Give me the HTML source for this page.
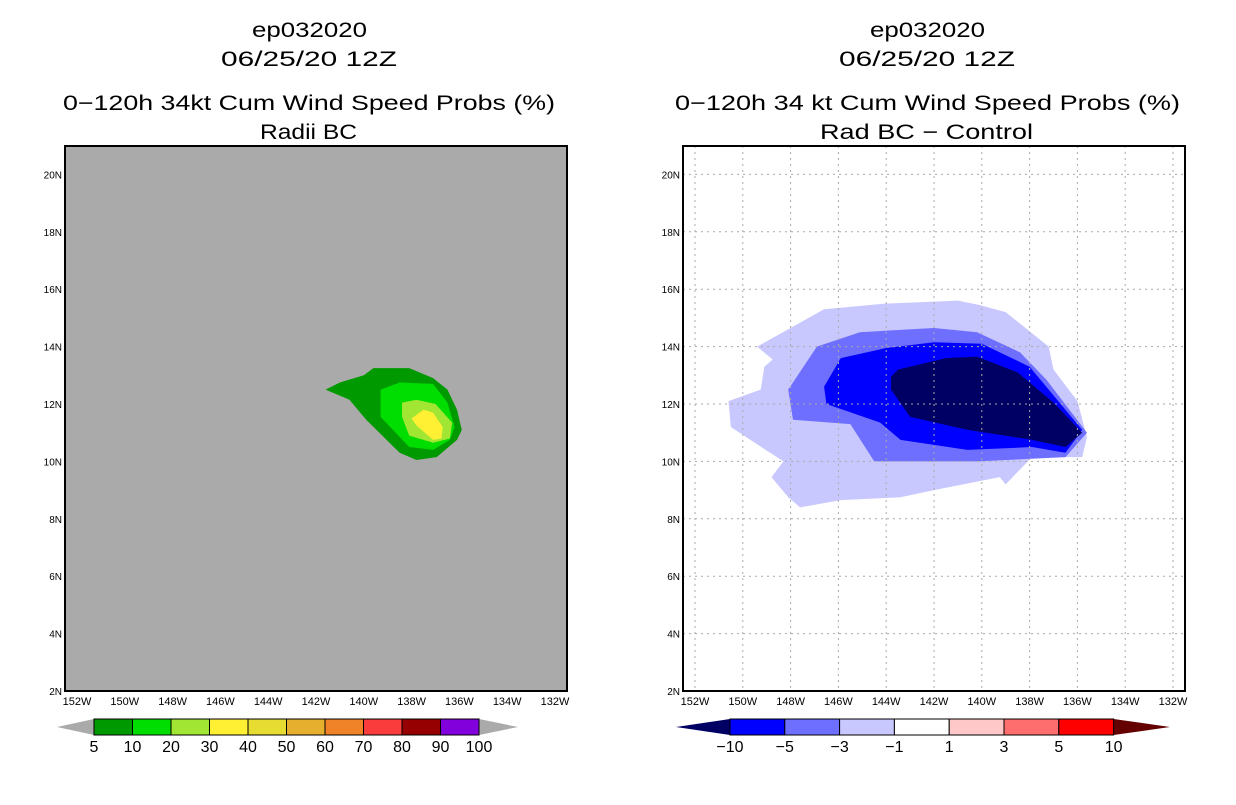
<!DOCTYPE html>
<html><head><meta charset="utf-8"><style>
body{margin:0;background:#fff;width:1236px;height:800px;overflow:hidden;font-family:"Liberation Sans",sans-serif}
svg text{font-family:"Liberation Sans",sans-serif}
</style></head><body>
<svg id="s" width="1236" height="800" xmlns="http://www.w3.org/2000/svg">
<g font-size="21" fill="#000" lengthAdjust="spacingAndGlyphs">
<text x="252" y="37" textLength="115" lengthAdjust="spacingAndGlyphs">ep032020</text>
<text x="221" y="66" textLength="176" lengthAdjust="spacingAndGlyphs">06/25/20 12Z</text>
<text x="63" y="110" textLength="492" lengthAdjust="spacingAndGlyphs">0−120h 34kt Cum Wind Speed Probs (%)</text>
<text x="260" y="139" textLength="97" lengthAdjust="spacingAndGlyphs">Radii BC</text></g>
<g font-size="21" fill="#000">
<text x="870" y="37" textLength="115" lengthAdjust="spacingAndGlyphs">ep032020</text>
<text x="839" y="66" textLength="176" lengthAdjust="spacingAndGlyphs">06/25/20 12Z</text>
<text x="675" y="110" textLength="505" lengthAdjust="spacingAndGlyphs">0−120h 34 kt Cum Wind Speed Probs (%)</text>
<text x="820" y="139" textLength="213" lengthAdjust="spacingAndGlyphs">Rad BC − Control</text></g>
<g id="L"></g><g id="R"></g>
</svg>
<script>
const lonTicks=[152,150,148,146,144,142,140,138,136,134,132];
const latTicks=[20,18,16,14,12,10,8,6,4,2];
const leftLevels=["5","10","20","30","40","50","60","70","80","90","100"];
const leftColors=["#009900","#00dd00","#a0e632","#fff033","#e6dc32","#e6af2d","#f08228","#fa3c3c","#960000","#8200dc"];
const rightLevels=["−10","−5","−3","−1","1","3","5","10"];
const rightColors=["#000064","#0000ff","#6e6eff","#c8c8ff","#ffffff","#ffc8c8","#ff6e6e","#ff0000","#640000"];
// left contours [lon(W), lat]
const leftC5=[[141.6,12.5],[141.0,12.75],[140.0,13.0],[139.6,13.25],[138.1,13.25],[137.1,12.9],[136.5,12.5],[136.1,11.8],[135.9,11.1],[136.1,10.75],[136.95,10.15],[137.8,10.05],[138.5,10.3],[139.9,11.45],[140.6,12.15]];
const leftC10=[[139.3,12.5],[138.5,12.75],[137.1,12.7],[136.5,12.05],[136.2,11.2],[136.4,10.75],[137.1,10.4],[138.1,10.5],[139.3,11.55]];
const leftC20=[[138.4,12.05],[137.8,12.15],[137.0,12.0],[136.3,11.35],[136.4,10.8],[137.1,10.65],[138.1,10.9],[138.4,11.55]];
const leftC30=[[138.0,11.5],[137.5,11.8],[137.1,11.7],[136.7,11.2],[136.75,10.8],[137.1,10.75],[137.8,11.25]];
// right difference contours
const rightCm1=[[149.4,14.0],[146.6,15.3],[144.0,15.5],[141.0,15.6],[140.1,15.45],[139.0,15.2],[137.2,14.0],[137.0,13.2],[136.0,12.1],[135.6,10.85],[135.8,10.15],[137.9,10.15],[139.0,9.2],[139.25,9.45],[142.0,9.0],[143.4,8.75],[145.9,8.65],[147.6,8.4],[148.1,8.75],[148.8,9.45],[148.3,10.0],[149.5,10.65],[150.5,11.2],[150.6,12.1],[149.25,12.5],[149.1,13.3],[148.75,13.55]];
const rightCm3=[[148.1,12.5],[146.9,14.0],[145.1,14.5],[142.0,14.65],[140.2,14.5],[138.4,13.8],[137.3,12.85],[135.6,11.0],[136.5,10.15],[140.2,10.0],[144.5,10.0],[145.5,11.3],[147.9,11.45]];
const rightCm5=[[146.6,12.6],[145.9,13.6],[144.0,13.95],[142.0,14.15],[140.0,14.1],[138.0,13.3],[135.8,11.1],[136.5,10.3],[137.9,10.5],[140.6,10.4],[143.4,10.75],[144.25,11.35],[146.5,12.0]];
const rightCm10=[[143.8,12.95],[143.5,13.2],[141.5,13.6],[140.2,13.65],[138.5,13.1],[137.0,12.05],[135.8,11.0],[136.5,10.5],[137.9,10.75],[140.6,11.1],[143.0,11.55],[143.8,12.5]];

const NS='http://www.w3.org/2000/svg';
function mk(p,t,a){const e=document.createElementNS(NS,t);for(const k in a)e.setAttribute(k,a[k]);p.appendChild(e);return e;}
function panel(g,x0,bg,grid,polys,cols){
  const xS=l=>x0+12+(152-l)*23.9, yS=la=>691-(la-2)*28.7;
  const bgR=mk(g,'rect',{x:x0,y:146,width:502,height:545,fill:bg});
  
  
  polys.forEach((pl,i)=>{
    const p=mk(g,'polygon',{points:pl.map(q=>xS(q[0])+','+yS(q[1])).join(' '),fill:cols[i]});
    
    
  });
  if(grid){
    lonTicks.forEach(l=>mk(g,'line',{x1:xS(l),x2:xS(l),y1:146,y2:691,stroke:'#aaa','stroke-dasharray':'2,4'}));
    latTicks.forEach(l=>mk(g,'line',{x1:x0,x2:x0+502,y1:yS(l),y2:yS(l),stroke:'#aaa','stroke-dasharray':'2,4'}));
  }
  const fr=mk(g,'rect',{x:x0,y:146,width:502,height:545,fill:'none',stroke:'#000','stroke-width':2});
  
  
  lonTicks.forEach(l=>{const t=mk(g,'text',{x:xS(l),y:705,'font-size':11,'text-anchor':'middle'});t.textContent=l+'W';
    
    });
  latTicks.forEach(l=>{const t=mk(g,'text',{x:x0-3,y:yS(l)+4,'font-size':10,'text-anchor':'end'});t.textContent=l+'N';
    
    });
}
function cbar(g,xs,w,x1,x2,cols,labs,boxCols,triL,triR){
  const cb=mk(g,'g',{});
  
  
  mk(cb,'polygon',{points:`${x1},727 ${xs},719 ${xs},735`,fill:triL});
  const xe=xs+w*boxCols.length;
  mk(cb,'polygon',{points:`${x2},727 ${xe},719 ${xe},735`,fill:triR});
  boxCols.forEach((c,i)=>mk(cb,'rect',{x:xs+i*w,y:719,width:w,height:16,fill:c,stroke:'#000','stroke-width':1}));
  labs.forEach((s,i)=>{const t=mk(cb,'text',{x:xs+i*w,y:752,'font-size':16,'text-anchor':'middle'});t.textContent=s;
    
    });
}
const L=document.getElementById('L'),R=document.getElementById('R');


panel(L,65,'#aaaaaa',false,[leftC5,leftC10,leftC20,leftC30],leftColors);
panel(R,683,'#ffffff',true,[rightCm1,rightCm3,rightCm5,rightCm10],[rightColors[3],rightColors[2],rightColors[1],rightColors[0]]);
cbar(L,94,38.5,57,518,leftColors,leftLevels,leftColors,'#aaaaaa','#aaaaaa');
cbar(R,730,54.8,676,1170,rightColors,rightLevels,rightColors.slice(1,8),rightColors[0],rightColors[8]);
</script>
</body></html>
